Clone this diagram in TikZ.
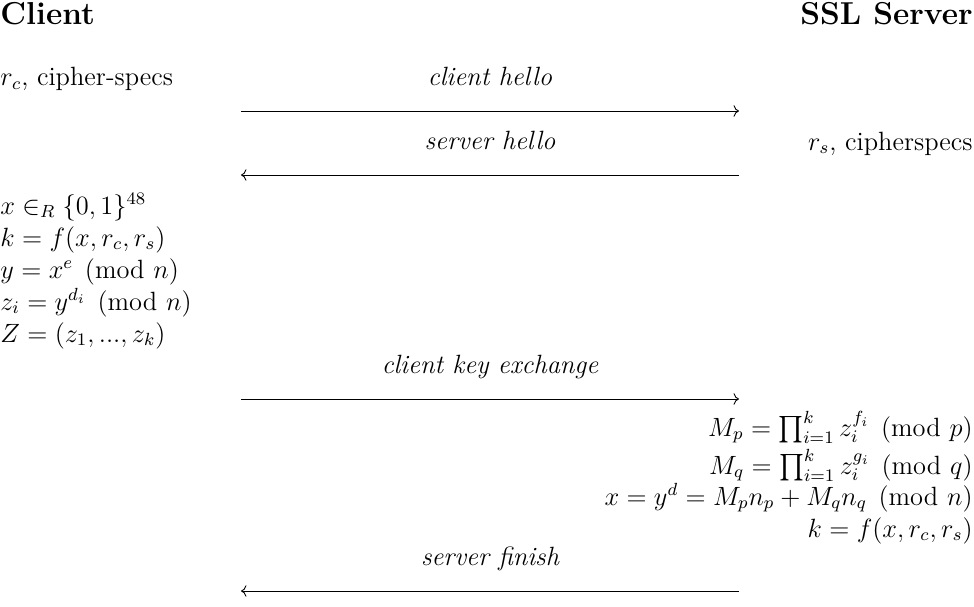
\documentclass[tikz,border=0pt,12pt]{standalone}
\usepackage{amsmath,amssymb}
\usetikzlibrary{arrows.meta, positioning}

\begin{document}
\begin{tikzpicture}[x=0.4545pt, y=-0.4545pt, every node/.style={inner sep=0pt},
		party/.style={font=\large\bfseries},
		msg/.style={above=11.5pt, anchor=base, font=\itshape}]
			\useasboundingbox (0,0) rectangle (974,607);
			% the two parties
			\node[party, anchor=base west] (C) at (0,25) {Client};
			\node[party, anchor=base east] (S) at (973,25) {SSL Server};
			\node[anchor=base west] (RC) at (0,86) {$r_c$, cipher-specs};
			\node[anchor=base east] (RS) at (973,150) {$r_s$, cipherspecs};
			% client side computation
			\node[anchor=base west] (X) at (0,214) {$x \in_R \{0,1\}^{48}$};
			\node[anchor=base west] (K) at (0,246) {$k = f(x, r_c, r_s)$};
			\node[anchor=base west] (Y) at (0,278) {$y = x^e \pmod n$};
			\node[anchor=base west] (Zi) at (0,310) {$z_i = y^{d_i} \pmod n$};
			\node[anchor=base west] (Z) at (0,342) {$Z = (z_1, ..., z_k)$};
			% server side computation
			\node[anchor=base east] (MP) at (973,436) {$M_p = \prod_{i=1}^k z_i^{f_i} \pmod p$};
			\node[anchor=base east] (MQ) at (973,474) {$M_q = \prod_{i=1}^k z_i^{g_i} \pmod q$};
			\node[anchor=base east] (XS) at (973,505) {$x = y^d = M_p n_p + M_q n_q \pmod n$};
			\node[anchor=base east] (KS) at (973,537) {$k = f(x, r_c, r_s)$};
			% messages
			\coordinate (L1) at (241,111); \coordinate (R1) at (739,111);
			\coordinate (L2) at (241,175); \coordinate (R2) at (739,175);
			\coordinate (L3) at (241,399); \coordinate (R3) at (739,399);
			\coordinate (L4) at (241,591); \coordinate (R4) at (739,591);
			\draw[->] (L1) -- node[msg] (M1) {client hello} (R1);
			\draw[->] (R2) -- node[msg] (M2) {server hello} (L2);
			\draw[->] (L3) -- node[msg] (M3) {client key exchange} (R3);
			\draw[->] (R4) -- node[msg] (M4) {server finish} (L4);
		\end{tikzpicture}
\end{document}
